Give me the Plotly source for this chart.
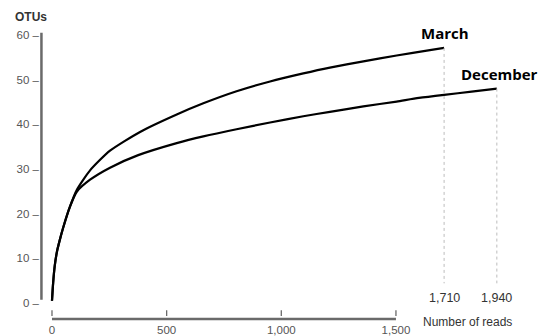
import plotly.graph_objects as go

# ---- data ----
march_x = [0, 5, 12, 22, 35, 49, 78, 108, 166, 253, 384, 544, 660, 805, 951, 1096, 1212, 1358, 1503, 1648, 1710]
march_y = [0.5, 4.5, 8.3, 11.6, 14.3, 16.9, 21.5, 25.3, 29.7, 34.1, 38.3, 42.2, 44.7, 47.4, 49.6, 51.4, 52.7, 54.1, 55.4, 56.6, 57.1]

dec_x = [0, 5, 12, 22, 35, 49, 78, 108, 166, 253, 376, 544, 660, 805, 951, 1096, 1212, 1358, 1503, 1600, 1710, 1830, 1940]
dec_y = [0.5, 4.5, 8.3, 11.6, 14.3, 16.9, 21.5, 24.9, 27.6, 30.3, 33.1, 35.8, 37.3, 38.9, 40.4, 41.8, 42.8, 44.0, 45.1, 45.9, 46.6, 47.3, 48.0]

series_names = ["March", "December"]
end_labels = ["1,710", "1,940"]

x_tickvals = [0, 500, 1000, 1500]
x_ticktext = ["0", "500", "1,000", "1,500"]
y_tickvals = [0, 10, 20, 30, 40, 50, 60]
y_ticktext = [f"{v} \u2013" for v in y_tickvals]

axis_grey = "#6a6a6a"
label_grey = "#555555"
sans = "Liberation Sans, Arial, sans-serif"

fig = go.Figure()
for xs, ys, name in [(march_x, march_y, series_names[0]), (dec_x, dec_y, series_names[1])]:
    fig.add_trace(go.Scatter(x=xs, y=ys, mode="lines", name=name,
                             line=dict(color="black", width=2.2, shape="spline", smoothing=0.6),
                             hoverinfo="skip"))

shapes = []
# y axis line (offset to the left of x=0)
shapes.append(dict(type="line", xref="x", yref="y", x0=-46, x1=-46, y0=0.7, y1=60.5,
                   line=dict(color=axis_grey, width=2.5)))
# x axis line (offset below y=0), spanning 0..1500
shapes.append(dict(type="line", xref="x", yref="y", x0=x_tickvals[0], x1=x_tickvals[-1], y0=-3.6, y1=-3.6,
                   line=dict(color=axis_grey, width=2.5)))
# x tick marks, detached above the axis line
for tv in x_tickvals:
    shapes.append(dict(type="line", xref="x", yref="y", x0=tv, x1=tv, y0=-1.6, y1=-2.9,
                       line=dict(color=axis_grey, width=1.3)))
# dotted drop lines from each curve end
for xs, ys in [(march_x, march_y), (dec_x, dec_y)]:
    shapes.append(dict(type="line", xref="x", yref="y", x0=xs[-1], x1=xs[-1], y0=ys[-1], y1=4.4,
                       line=dict(color="#bdbdbd", width=1, dash="dot")))

annotations = []
# series name labels
annotations.append(dict(x=march_x[-1], y=march_y[-1], xref="x", yref="y", text=f"<b>{series_names[0]}</b>",
                        showarrow=False, xanchor="center", yanchor="bottom", xshift=1, yshift=3,
                        font=dict(family="Open Sans, Noto Sans, sans-serif", size=15, color="black")))
annotations.append(dict(x=dec_x[-1], y=dec_y[-1], xref="x", yref="y", text=f"<b>{series_names[1]}</b>",
                        showarrow=False, xanchor="center", yanchor="bottom", xshift=3, yshift=3,
                        font=dict(family="Open Sans, Noto Sans, sans-serif", size=15, color="black")))
# end read counts
for xs, lab in [(march_x, end_labels[0]), (dec_x, end_labels[1])]:
    annotations.append(dict(x=xs[-1], y=1.1, xref="x", yref="y", text=lab, showarrow=False,
                            xanchor="center", yanchor="middle",
                            font=dict(family=sans, size=12.5, color="#333333")))
# axis titles
annotations.append(dict(x=-0.055, y=1.03, xref="paper", yref="paper", text="<b>OTUs</b>", showarrow=False,
                        xanchor="left", yanchor="middle",
                        font=dict(family=sans, size=12, color="#333333")))
annotations.append(dict(x=1810, y=-0.003, xref="x", yref="paper", text="Number of reads", showarrow=False,
                        xanchor="center", yanchor="middle",
                        font=dict(family=sans, size=12, color="#333333")))

fig.update_layout(
    width=546, height=336,
    margin=dict(l=40, r=6, t=26, b=15),
    paper_bgcolor="white", plot_bgcolor="white",
    showlegend=False,
    shapes=shapes, annotations=annotations,
    xaxis=dict(range=[-52.3, 2128.2], tickvals=x_tickvals, ticktext=x_ticktext, automargin=False,
               showgrid=False, zeroline=False, showline=False, ticks="",
               tickfont=dict(family=sans, size=11.5, color=label_grey)),
    yaxis=dict(range=[-4.03, 62.01], tickvals=y_tickvals, ticktext=y_ticktext, automargin=False,
               showgrid=False, zeroline=False, showline=False, ticks="",
               tickfont=dict(family=sans, size=11.5, color=label_grey)),
)

fig.write_html("out.html", config={"displayModeBar": False},
               post_script="document.body.style.margin='0';document.body.style.overflow='hidden';")
